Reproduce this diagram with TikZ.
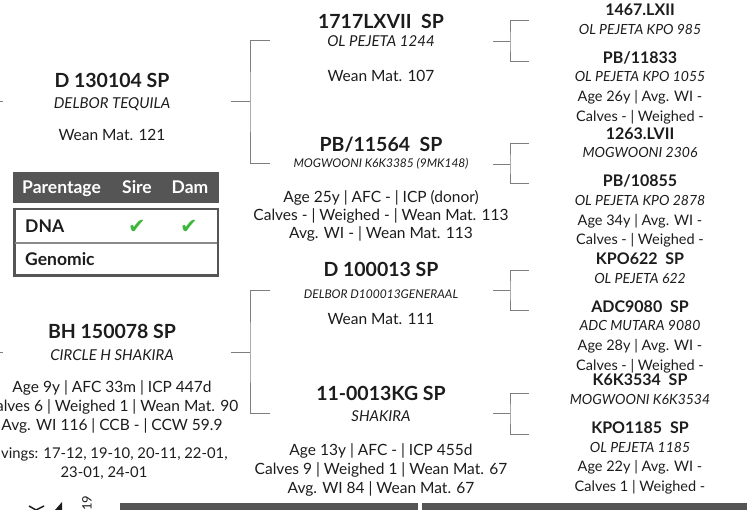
\documentclass[tikz,border=0pt]{standalone}
\usepackage{fontspec}
\setmainfont{Lato}
\newfontfamily\symfont{DejaVu Sans}
\usepackage{tikz}
\usetikzlibrary{positioning,calc}
\definecolor{ink}{HTML}{1C1C1C}
\definecolor{linkgray}{HTML}{7E7E7E}
\definecolor{slate}{HTML}{555555}
\definecolor{rulegray}{HTML}{8A8A8A}
\definecolor{tickgreen}{HTML}{3DB83D}

\begin{document}
\begin{tikzpicture}[x=1pt,y=-1pt,
        idbig/.style={font=\fontsize{19.5}{22}\selectfont\bfseries,text=ink,inner sep=0pt,anchor=base},
        regbig/.style={font=\fontsize{15}{18}\selectfont\itshape,text=ink,inner sep=0pt,anchor=base},
        regsmall/.style={font=\fontsize{12}{14}\selectfont\itshape,text=ink,inner sep=0pt,anchor=base},
        stats/.style={font=\fontsize{15.5}{19}\selectfont,text=ink,inner sep=0pt,anchor=base,align=center},
        idsmall/.style={font=\fontsize{16}{19}\selectfont\bfseries,text=ink,inner sep=0pt,anchor=base},
        regmid/.style={font=\fontsize{14}{17}\selectfont\itshape,text=ink,inner sep=0pt,anchor=base},
        statsmall/.style={font=\fontsize{14.5}{19.5}\selectfont,text=ink,inner sep=0pt,anchor=base,align=center},
        link/.style={draw=linkgray,line width=1pt},
        hdr/.style={font=\fontsize{17.5}{19}\selectfont\bfseries,text=white,inner sep=0pt,anchor=base},
        rowlbl/.style={font=\fontsize{17.5}{19}\selectfont\bfseries,text=ink,inner sep=0pt,anchor=base west},
        chk/.style={font=\symfont\fontsize{21}{23}\selectfont,text=tickgreen,inner sep=0pt}
    ]
      \useasboundingbox (0,0) rectangle (747,510);
      \clip (0,0) rectangle (747,510);

      % first generation
      \node[idbig] (d130104) at (112,88) {D 130104 SP};
      \node[regbig, below=20.5pt of d130104.base, anchor=base] (d130104r) {DELBOR TEQUILA};
      \node[stats, below=32pt of d130104r.base, anchor=base] (d130104s) {Wean Mat. 121};

      \node[idbig] (bh150078) at (112,339) {BH 150078 SP};
      \node[regbig, below=21.4pt of bh150078.base, anchor=base] (bh150078r) {CIRCLE H SHAKIRA};
      \node[stats, below=70pt of bh150078r.base, anchor=base] (bh150078s)
        {Age 9y | AFC 33m | ICP 447d\\Calves 6 | Weighed 1 | Wean Mat. 90\\Avg. WI 116 | CCB - | CCW 59.9};
      \node[stats, font=\fontsize{14.8}{19}\selectfont, anchor=base] (bh150078c) at (104,477.5)
        {Calvings: 17-12, 19-10, 20-11, 22-01,\\23-01, 24-01};

      % parentage table
      \fill[slate] (13,172) rectangle (219,203);
      \node[hdr, anchor=base west] (parhdr) at (22,194) {Parentage};
      \node[hdr] (sirehdr) at (137,194) {Sire};
      \node[hdr] (damhdr) at (190,194) {Dam};
      \draw[slate, line width=2.5pt] (14.25,209.25) rectangle (217.75,275.75);
      \draw[slate, line width=3pt] (14.5,208) -- (14.5,277);
      \draw[rulegray, line width=1.5pt] (15,243) -- (217,243);
      \node[rowlbl] (dnarow) at (25,233) {DNA};
      \node[rowlbl] (genrow) at (25,266) {Genomic};
      \node[chk] (dnasire) at (137,227) {✔};
      \node[chk] (dnadam) at (189,227) {✔};

      % second generation
      \node[idbig] (t1717) at (381,29) {1717LXVII\ \ SP};
      \node[regbig, below=17.5pt of t1717.base, anchor=base] (t1717r) {OL PEJETA 1244};
      \node[stats, below=35pt of t1717r.base, anchor=base] (t1717s) {Wean Mat. 107};

      \node[idbig] (pb11564) at (381,152) {PB/11564\ \ SP};
      \node[regsmall, below=15.3pt of pb11564.base, anchor=base] (pb11564r) {MOGWOONI K6K3385 (9MK148)};
      \node[stats, font=\fontsize{15.5}{18}\selectfont, below=71.2pt of pb11564r.base, anchor=base] (pb11564s)
        {Age 25y | AFC - | ICP (donor)\\Calves - | Weighed - | Wean Mat. 113\\Avg. WI - | Wean Mat. 113};

      \node[idbig] (d100013) at (381,277) {D 100013 SP};
      \node[regsmall, below=21.3pt of d100013.base, anchor=base] (d100013r) {DELBOR D100013GENERAAL};
      \node[stats, below=26.2pt of d100013r.base, anchor=base] (d100013s) {Wean Mat. 111};

      \node[idbig] (kg0013) at (381,401) {11-0013KG SP};
      \node[regbig, below=20.4pt of kg0013.base, anchor=base] (kg0013r) {SHAKIRA};
      \node[stats, below=72.1pt of kg0013r.base, anchor=base] (kg0013s)
        {Age 13y | AFC - | ICP 455d\\Calves 9 | Weighed 1 | Wean Mat. 67\\Avg. WI 84 | Wean Mat. 67};

      % third generation
      \node[idsmall] (l1467) at (640,15.8) {1467.LXII};
      \node[regmid, below=18.7pt of l1467.base, anchor=base] (l1467r) {OL PEJETA KPO 985};
      \node[idsmall, below=28.8pt of l1467r.base, anchor=base] (pb11833) {PB/11833};
      \node[regmid, below=18.7pt of pb11833.base, anchor=base] (pb11833r) {OL PEJETA KPO 1055};
      \node[statsmall, below=39.4pt of pb11833r.base, anchor=base] (pb11833s) {Age 26y | Avg. WI -\\Calves - | Weighed -};

      \node[idsmall] (l1263) at (640,139.3) {1263.LVII};
      \node[regmid, below=18.7pt of l1263.base, anchor=base] (l1263r) {MOGWOONI 2306};
      \node[idsmall, below=28.8pt of l1263r.base, anchor=base] (pb10855) {PB/10855};
      \node[regmid, below=18.7pt of pb10855.base, anchor=base] (pb10855r) {OL PEJETA KPO 2878};
      \node[statsmall, below=39.4pt of pb10855r.base, anchor=base] (pb10855s) {Age 34y | Avg. WI -\\Calves - | Weighed -};

      \node[idsmall] (kpo622) at (640,264.8) {KPO622\ \ SP};
      \node[regmid, below=18.7pt of kpo622.base, anchor=base] (kpo622r) {OL PEJETA 622};
      \node[idsmall, below=28.8pt of kpo622r.base, anchor=base] (adc9080) {ADC9080\ \ SP};
      \node[regmid, below=18.7pt of adc9080.base, anchor=base] (adc9080r) {ADC MUTARA 9080};
      \node[statsmall, below=39.4pt of adc9080r.base, anchor=base] (adc9080s) {Age 28y | Avg. WI -\\Calves - | Weighed -};

      \node[idsmall] (k6k3534) at (640,385.8) {K6K3534\ \ SP};
      \node[regmid, below=18.7pt of k6k3534.base, anchor=base] (k6k3534r) {MOGWOONI K6K3534};
      \node[idsmall, below=28.8pt of k6k3534r.base, anchor=base] (kpo1185) {KPO1185\ \ SP};
      \node[regmid, below=18.7pt of kpo1185.base, anchor=base] (kpo1185r) {OL PEJETA 1185};
      \node[statsmall, below=39.4pt of kpo1185r.base, anchor=base] (kpo1185s) {Age 22y | Avg. WI -\\Calves 1 | Weighed -};

      % bracket joints
      \coordinate (rootin1) at (-10,102);  \coordinate (d130104in) at (3,102);
      \coordinate (rootin2) at (-10,353);  \coordinate (bh150078in) at (3,353);
      \coordinate (d130104o) at (231,102); \coordinate (jd130104) at (250,102);
      \coordinate (t1717in) at (270,41);   \coordinate (pb11564in) at (270,164);
      \coordinate (bh150078o) at (231,353); \coordinate (jbh150078) at (250,353);
      \coordinate (d100013in) at (270,291); \coordinate (kg0013in) at (270,414);
      \coordinate (t1717o) at (493,42);    \coordinate (jt1717) at (510,42);
      \coordinate (l1467in) at (529,21);   \coordinate (pb11833in) at (529,62);
      \coordinate (pb11564o) at (493,165); \coordinate (jpb11564) at (510,165);
      \coordinate (l1263in) at (529,144);  \coordinate (pb10855in) at (529,184);
      \coordinate (d100013o) at (493,291); \coordinate (jd100013) at (510,291);
      \coordinate (kpo622in) at (529,271); \coordinate (adc9080in) at (529,311);
      \coordinate (kg0013o) at (493,414);  \coordinate (jkg0013) at (510,414);
      \coordinate (k6k3534in) at (529,394); \coordinate (kpo1185in) at (529,434);

      \draw[link] (rootin1) -- (d130104in);
      \draw[link] (rootin2) -- (bh150078in);
      \draw[link] (d130104o) -- (jd130104) (t1717in) -| (jd130104) |- (pb11564in);
      \draw[link] (bh150078o) -- (jbh150078) (d100013in) -| (jbh150078) |- (kg0013in);
      \draw[link] (t1717o) -- (jt1717) (l1467in) -| (jt1717) |- (pb11833in);
      \draw[link] (pb11564o) -- (jpb11564) (l1263in) -| (jpb11564) |- (pb10855in);
      \draw[link] (d100013o) -- (jd100013) (kpo622in) -| (jd100013) |- (adc9080in);
      \draw[link] (kg0013o) -- (jkg0013) (k6k3534in) -| (jkg0013) |- (kpo1185in);

      % footer
      \fill[slate] (120,503) rectangle (418,512);
      \fill[slate] (422,503) rectangle (750,512);
      \node[font=\fontsize{13}{15}\selectfont, text=ink, rotate=90, inner sep=0pt] (yr19) at (87,503) {19};
      \fill[ink] (55,510) -- (62,502) -- (62,510) -- cycle;
      \draw[ink, line width=1.5pt] (29,506) -- (36,510) -- (44,506);
    \end{tikzpicture}
\end{document}
